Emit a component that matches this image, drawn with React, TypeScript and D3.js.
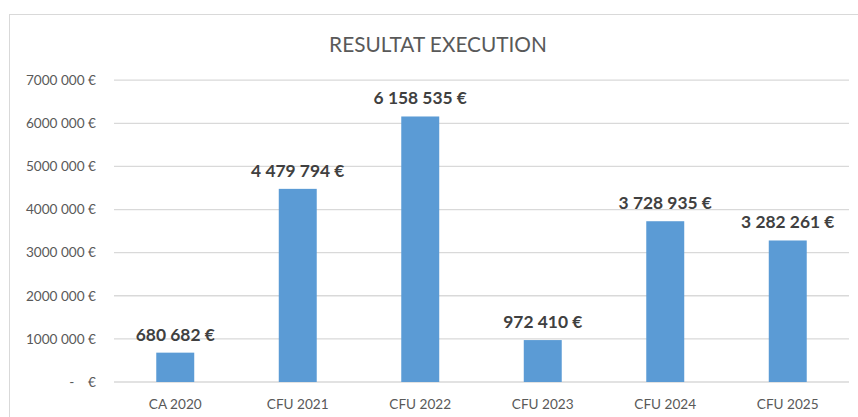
import React from "react";
import * as d3 from "d3";

const categories = ["CA 2020", "CFU 2021", "CFU 2022", "CFU 2023", "CFU 2024", "CFU 2025"];
const values = [680682, 4479794, 6158535, 972410, 3728935, 3282261];
const valueLabels = ["680 682 €", "4 479 794 €", "6 158 535 €", "972 410 €", "3 728 935 €", "3 282 261 €"];
const tickValues = [0, 1000000, 2000000, 3000000, 4000000, 5000000, 6000000, 7000000];
const tickLabels = ["-\u00a0\u00a0\u00a0\u00a0€", "1000 000 €", "2000 000 €", "3000 000 €", "4000 000 €", "5000 000 €", "6000 000 €", "7000 000 €"];
const title = "RESULTAT EXECUTION";

export default function App() {
  const W = 858, H = 417;
  const left = 114, right = 849, top = 80.2, bottom = 382;
  const font = "Lato, 'Open Sans', sans-serif";
  const x = d3.scaleBand<string>().domain(categories).range([left, right]).paddingInner(0.69).paddingOuter(0.345);
  const y = d3.scaleLinear().domain([0, 7000000]).range([bottom, top]);
  return (
    <svg width={W} height={H} style={{ position: "absolute", left: 0, top: 0 }}>
      <rect x={0} y={0} width={W} height={H} fill="#fff" />
      <line x1={9} x2={W} y1={14.5} y2={14.5} stroke="#d9d9d9" />
      <line x1={9.5} x2={9.5} y1={14} y2={H} stroke="#d9d9d9" />
      <text x={438} y={52} textAnchor="middle" fontFamily={font} fontSize={20.8} fill="#595959">{title}</text>
      {tickValues.map((t, i) => (
        <g key={t}>
          <line x1={left} x2={right} y1={y(t)} y2={y(t)} stroke="#d9d9d9" strokeWidth={1.3} />
          <text x={96} y={y(t) + 4.8} textAnchor="end" fontFamily={font} fontSize={13.6} fill="#595959" style={{ whiteSpace: "pre" }}>{tickLabels[i]}</text>
        </g>
      ))}
      {categories.map((c, i) => (
        <g key={c}>
          <rect x={x(c)} y={y(values[i])} width={x.bandwidth()} height={bottom - y(values[i])} fill="#5b9bd5" />
          <text x={x(c)! + x.bandwidth() / 2} y={y(values[i]) - 12} textAnchor="middle" fontFamily={font} fontWeight="bold" fontSize={17.4} fill="#404040">{valueLabels[i]}</text>
          <text x={x(c)! + x.bandwidth() / 2} y={409} textAnchor="middle" fontFamily={font} fontSize={13.6} fill="#595959">{c}</text>
        </g>
      ))}
    </svg>
  );
}
